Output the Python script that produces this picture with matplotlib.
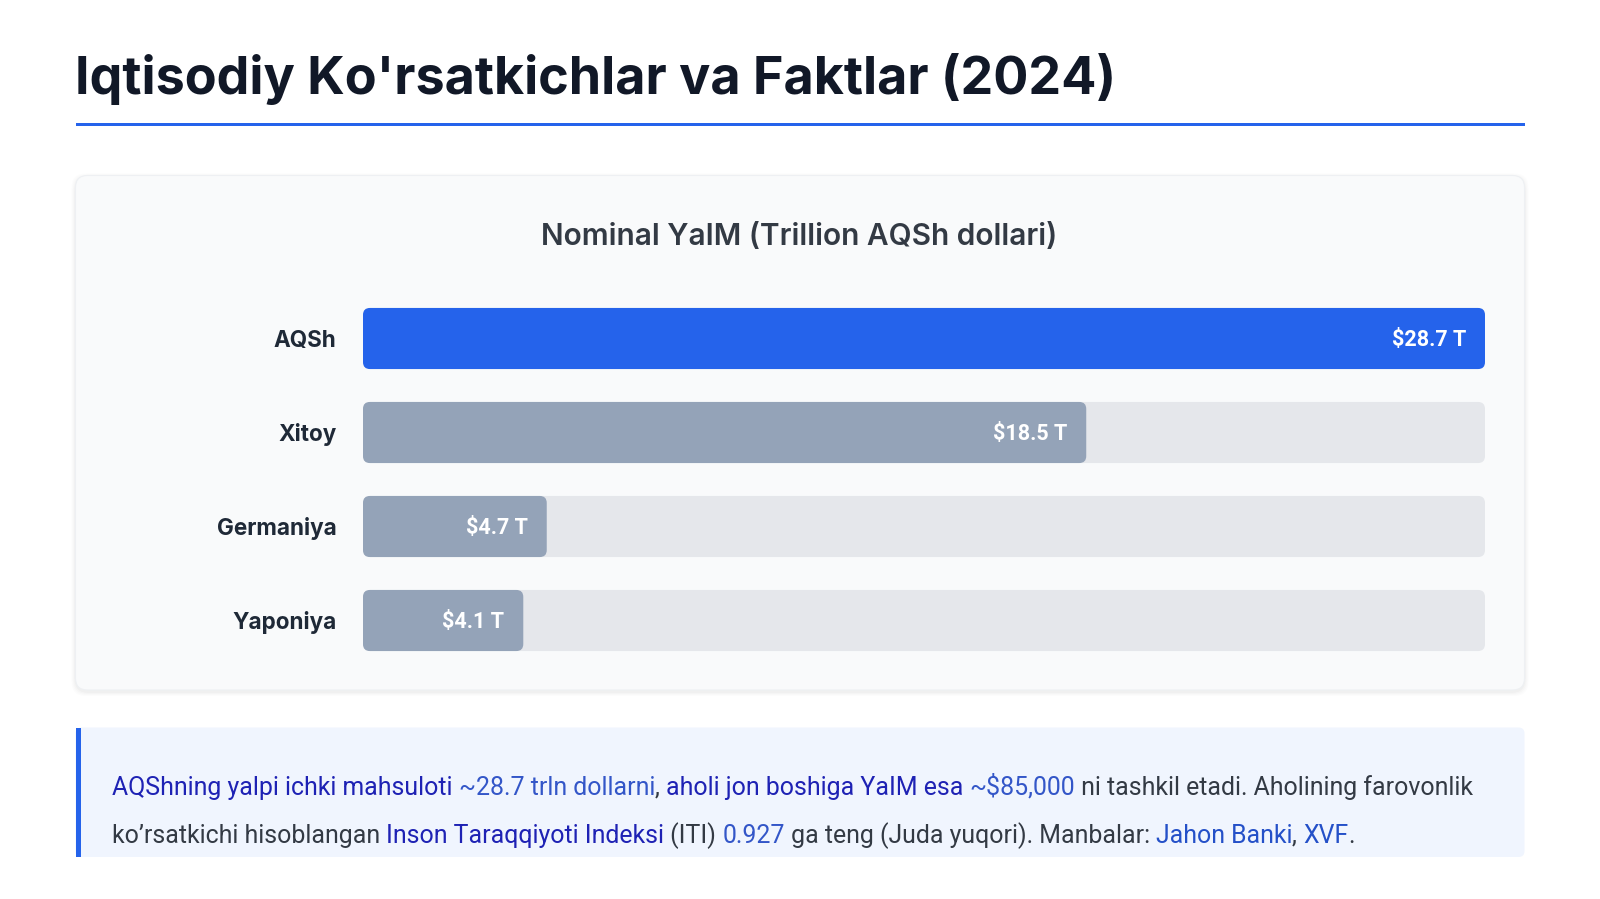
import matplotlib
matplotlib.use("Agg")
import matplotlib.pyplot as plt
from matplotlib.patches import FancyBboxPatch, Rectangle
import matplotlib.transforms as mtransforms

W, H, DPI = 1600, 899, 100

# ---------------- data ----------------
title = "Iqtisodiy Ko'rsatkichlar va Faktlar (2024)"
chart_title = "Nominal YaIM (Trillion AQSh dollari)"
countries = ["AQSh", "Xitoy", "Germaniya", "Yaponiya"]
gdp = [28.7, 18.5, 4.7, 4.1]
value_labels = ["$28.7 T", "$18.5 T", "$4.7 T", "$4.1 T"]
bar_colors = ["#2563eb", "#94a3b8", "#94a3b8", "#94a3b8"]

GRAY = "#333a44"
INDIGO = "#1e22b4"
NUM = "#3356c8"
LINK = "#2450c8"
para_line1 = [("AQShning yalpi ichki mahsuloti", INDIGO), (" ", GRAY),
              ("~28.7 trln dollarni", NUM), (", ", GRAY),
              ("aholi jon boshiga YaIM esa", INDIGO), (" ", GRAY),
              ("~$85,000", NUM), (" ni tashkil etadi. Aholining farovonlik", GRAY)]
para_line2 = [("ko\u2019rsatkichi hisoblangan ", GRAY), ("Inson Taraqqiyoti Indeksi", INDIGO),
              (" (ITI) ", GRAY), ("0.927", NUM),
              (" ga teng (Juda yuqori). Manbalar: ", GRAY), ("Jahon Banki", LINK),
              (", ", GRAY), ("XVF", LINK), (".", GRAY)]

# ---------------- figure ----------------
fig = plt.figure(figsize=(W / DPI, H / DPI), dpi=DPI)
fig.patch.set_facecolor("white")
px = mtransforms.Affine2D().scale(1 / DPI) + fig.dpi_scale_trans  # pixel coords, origin bottom-left


def Y(y):  # top-based pixel -> bottom-based
    return H - y


# title + rule
fig.text(75, Y(94), title, transform=px, fontfamily="Inter", fontweight="bold",
         fontsize=37.5, color="#111827", va="baseline", ha="left")
fig.patches.append(Rectangle((75.5, Y(126)), 1449, 3, transform=px, color="#2563eb", lw=0, zorder=0))

# card with soft shadow
cx0, cy0, cx1, cy1 = 75.5, 175.5, 1524.5, 690
for i, a in enumerate([0.012, 0.012, 0.015, 0.02]):
    p = 4 - i
    fig.patches.append(FancyBboxPatch((cx0 - p, Y(cy1) - p - 2), cx1 - cx0 + 2 * p, cy1 - cy0 + 2 * p,
                                      boxstyle="round,pad=0,rounding_size=14", transform=px,
                                      facecolor="black", alpha=a, lw=0, zorder=0))
fig.patches.append(FancyBboxPatch((cx0, Y(cy1)), cx1 - cx0, cy1 - cy0,
                                  boxstyle="round,pad=0,rounding_size=12", transform=px,
                                  facecolor="#f9fafb", edgecolor="#eef0f3", lw=0.8, zorder=0))

fig.text(799, Y(237), chart_title, transform=px, fontfamily="Inter", fontweight="semibold",
         fontsize=21.5, color=GRAY, ha="center", va="center")

# ---------------- bar axes ----------------
ax = fig.add_axes([363 / W, 1 - 667.5 / H, 1122 / W, 376 / H])
ax.set_zorder(5)
ax.set_facecolor("none")
xmax = max(gdp)
ax.set_xlim(0, xmax)
ax.set_ylim(len(countries) - 0.5, -0.5)
for s in ax.spines.values():
    s.set_visible(False)
ax.set_xticks([])
pos = list(range(len(countries)))
ax.set_yticks(pos)
ax.set_yticklabels(countries, fontfamily="Inter", fontweight="bold", fontsize=16.2, color="#1f2937")
ax.tick_params(axis="y", length=0, pad=19)

BH = 0.65
tracks = ax.barh(pos, [xmax] * len(pos), height=BH, color="#e5e7eb")
bars = ax.barh(pos, gdp, height=BH, color=bar_colors)

p0 = ax.transData.transform((0, 0))
p1 = ax.transData.transform((1, 1))
ppx_x = abs(p1[0] - p0[0])
ppx_y = abs(p1[1] - p0[1])


def round_bars(container, r_px, z):
    for b in container:
        x, y, w, h = b.get_x(), b.get_y(), b.get_width(), b.get_height()
        fc = b.get_facecolor()
        b.set_visible(False)
        ax.add_patch(FancyBboxPatch((x, y), w, h,
                                    boxstyle=f"round,pad=0,rounding_size={r_px / ppx_x}",
                                    mutation_aspect=ppx_x / ppx_y,
                                    facecolor=fc, lw=0, zorder=z))


round_bars(tracks, 7, 1)
round_bars(bars, 7, 2)

for i, (v, lab) in enumerate(zip(gdp, value_labels)):
    ax.annotate(lab, xy=(v, i), xytext=(-19 * 72 / DPI, -2 * 72 / DPI), textcoords="offset points",
                ha="right", va="center", color="white", fontfamily="Roboto",
                fontweight="bold", fontsize=15.5, zorder=3, parse_math=False)

# ---------------- info box ----------------
bx0, by0, bx1, by1 = 75.5, 727.5, 1524.5, 857
fig.patches.append(FancyBboxPatch((bx0, Y(by1)), bx1 - bx0, by1 - by0,
                                  boxstyle="round,pad=0,rounding_size=6", transform=px,
                                  facecolor="#f0f5fe", lw=0, zorder=0))
fig.patches.append(Rectangle((bx0, Y(by1)), 5, by1 - by0, transform=px, color="#2563eb", lw=0, zorder=0))

renderer = fig.canvas.get_renderer()
PFS = 17.95


def text_w(s):
    t1 = fig.text(0, 0, s + "|", transform=px, fontfamily="Roboto", fontsize=PFS, parse_math=False)
    t2 = fig.text(0, 0, "|", transform=px, fontfamily="Roboto", fontsize=PFS, parse_math=False)
    w = t1.get_window_extent(renderer).width - t2.get_window_extent(renderer).width
    t1.remove()
    t2.remove()
    return w


def draw_line(segs, x0, base):
    x = x0
    for s, c in segs:
        fig.text(x, Y(base), s, transform=px, fontfamily="Roboto", fontsize=PFS, color=c,
                 ha="left", va="baseline", parse_math=False)
        x += text_w(s)


draw_line(para_line1, 112, 795)
draw_line(para_line2, 112, 843)

fig.savefig("out.png", dpi=DPI)
